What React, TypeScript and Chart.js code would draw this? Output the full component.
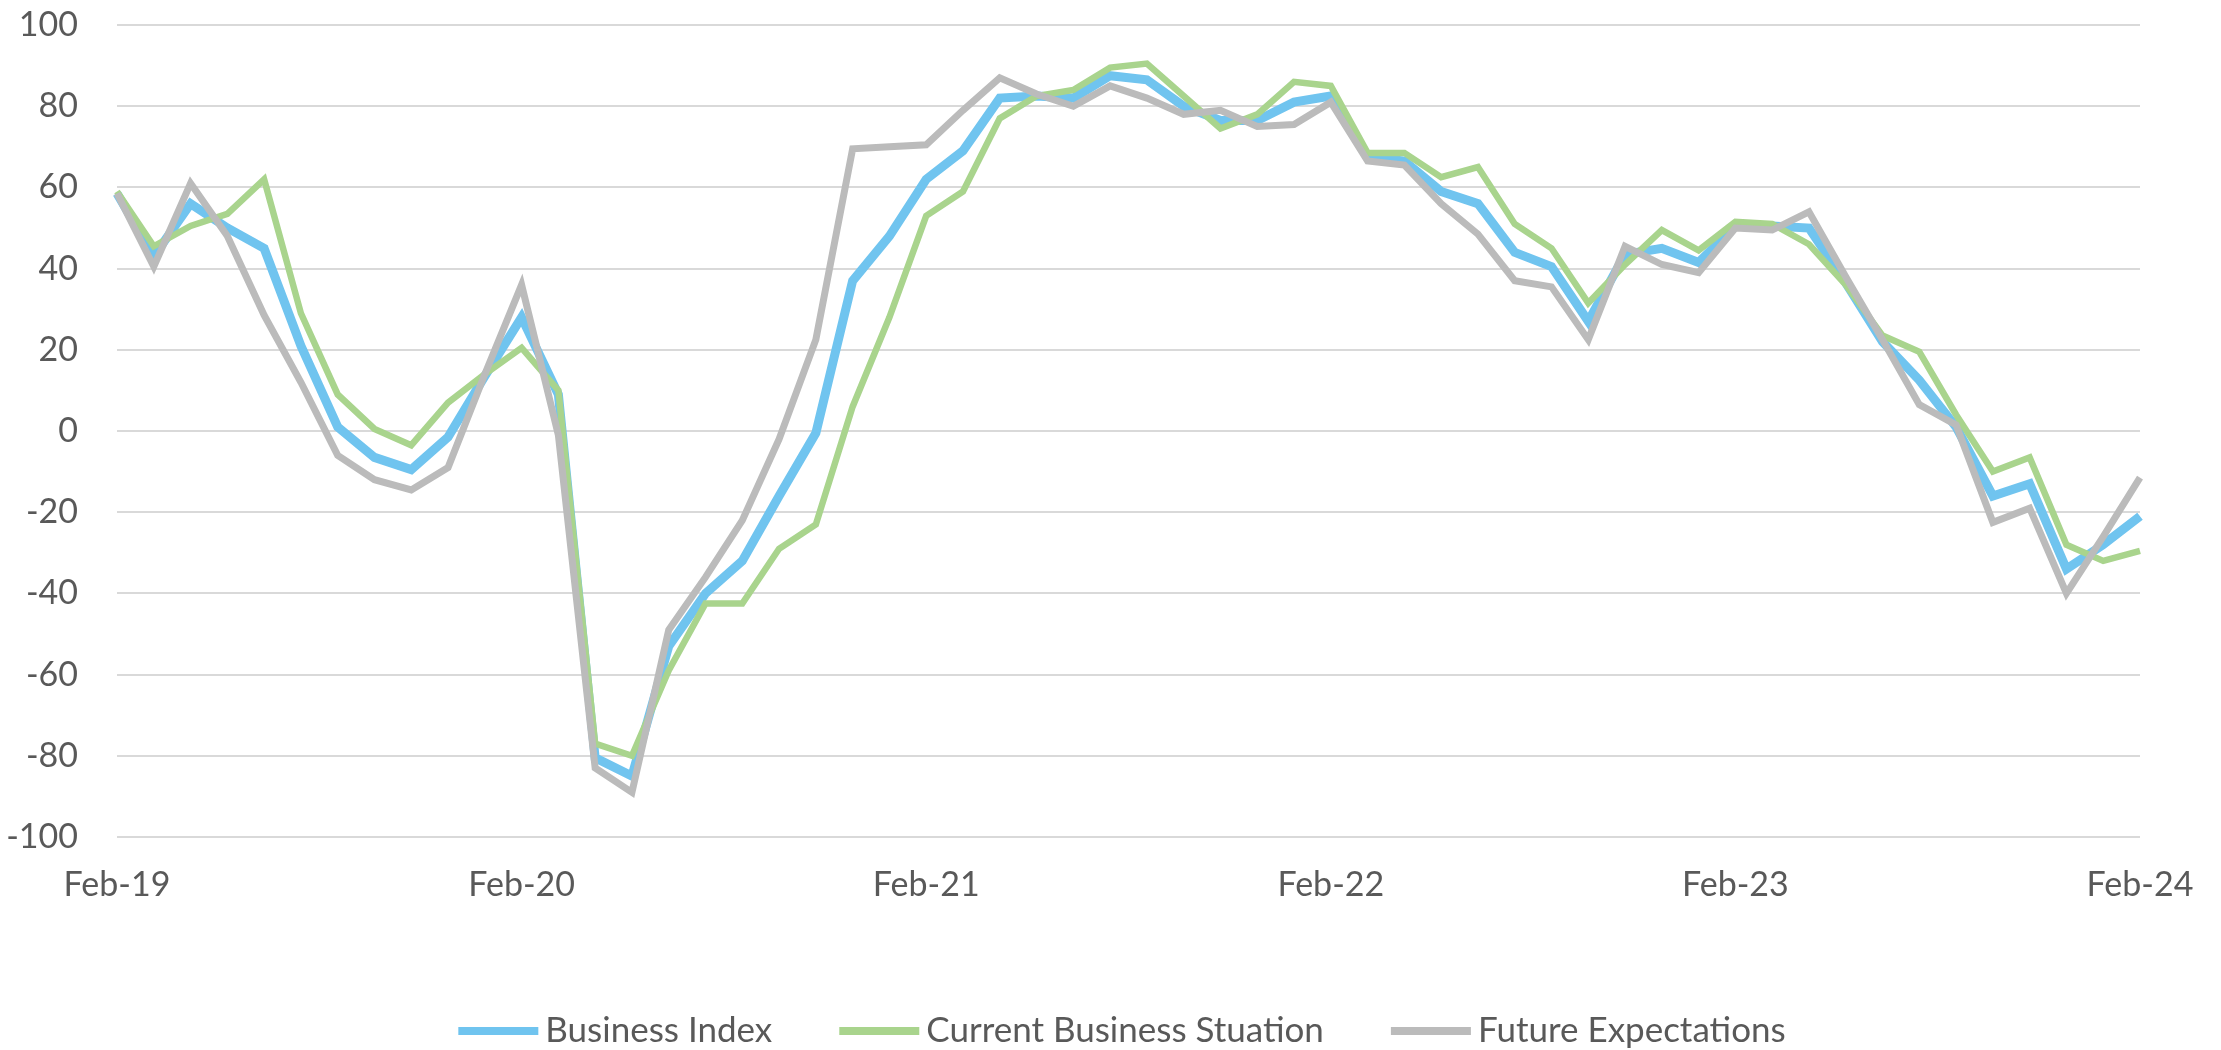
import React, { useEffect, useRef } from "react";
import { Chart, registerables } from "chart.js";

Chart.register(...registerables);

const categories: string[] = [
  "Feb-19", "Mar-19", "Apr-19", "May-19", "Jun-19", "Jul-19", "Aug-19", "Sep-19", "Oct-19", "Nov-19", "Dec-19",
  "Feb-20", "Mar-20", "Apr-20", "May-20", "Jun-20", "Jul-20", "Aug-20", "Sep-20", "Oct-20", "Nov-20", "Dec-20",
  "Feb-21", "Mar-21", "Apr-21", "May-21", "Jun-21", "Jul-21", "Aug-21", "Sep-21", "Oct-21", "Nov-21", "Dec-21",
  "Feb-22", "Mar-22", "Apr-22", "May-22", "Jun-22", "Jul-22", "Aug-22", "Sep-22", "Oct-22", "Nov-22", "Dec-22",
  "Feb-23", "Mar-23", "Apr-23", "May-23", "Jun-23", "Jul-23", "Aug-23", "Sep-23", "Oct-23", "Nov-23", "Dec-23",
  "Feb-24",
];

const shownTickLabels: string[] = ["Feb-19", "Feb-20", "Feb-21", "Feb-22", "Feb-23", "Feb-24"];

const businessIndex: number[] = [
  58.5, 43, 56, 50, 45, 21, 1, -6.5, -9.5, -1.5, 13.5,
  28, 9, -80.5, -85, -53, -40, -32, -16, -0.5, 37, 48,
  62, 69, 82, 82.5, 82, 87.5, 86.5, 80, 76.5, 76.5, 81,
  82.5, 67.5, 66.5, 59, 56, 44, 40.5, 27, 43.5, 45, 41.5,
  50.5, 50.5, 50, 36.5, 22, 12.5, 1, -16, -13, -34, -28,
  -21,
];

const currentSituation: number[] = [
  59, 45.5, 50.5, 53.5, 62, 29, 9, 0.5, -3.5, 7, 14,
  20.5, 10, -77, -80, -59, -42.5, -42.5, -29, -23, 6, 28,
  53, 59, 77, 82.5, 84, 89.5, 90.5, 82.5, 74.5, 78, 86,
  85, 68.5, 68.5, 62.5, 65, 51, 45, 31.5, 41, 49.5, 44.5,
  51.5, 51, 46, 36, 23.5, 19.5, 4, -10, -6.5, -28, -32,
  -29.5,
];

const futureExpectations: number[] = [
  58.5, 40.5, 61, 48, 28.5, 12, -6, -12, -14.5, -9, 14,
  36, -1, -83, -89, -49, -36, -22, -2, 22.5, 69.5, 70,
  70.5, 79, 87, 83, 80, 85, 82, 78, 79, 75, 75.5,
  81, 66.5, 65.5, 56, 48.5, 37, 35.5, 22.5, 45.5, 41, 39,
  50, 49.5, 54, 38, 22.5, 6.5, 1.5, -22.5, -19, -40, -26,
  -11.5,
];

const seriesNames: string[] = ["Business Index", "Current Business Stuation", "Future Expectations"];
const seriesColors: string[] = ["#70C4EF", "#A9D48D", "#BBBBBB"];

const W = 2221;
const H = 1050;
const FONT = "Lato, 'Open Sans', sans-serif";
const TEXT = "#595959";

// Custom bottom legend (Excel style: long line marker, tight gap to text)
const bottomLegend = {
  id: "bottomLegend",
  afterDraw(chart: any) {
    const ctx = chart.ctx as CanvasRenderingContext2D;
    const boxW = 80;
    const boxH = 8;
    const gap = 7;
    const spacing = 67;
    const centerX = 1122;
    const y = 1031;
    ctx.save();
    ctx.font = `35px ${FONT}`;
    ctx.textBaseline = "middle";
    ctx.textAlign = "left";
    const items = chart.data.datasets.map((ds: any) => {
      const w = ctx.measureText(ds.label).width;
      return { label: ds.label as string, color: ds.borderColor as string, w };
    });
    const total =
      items.reduce((a: number, it: any) => a + boxW + gap + it.w, 0) + spacing * (items.length - 1);
    let x = centerX - total / 2;
    for (const it of items) {
      ctx.fillStyle = it.color;
      ctx.fillRect(x, y - boxH / 2, boxW, boxH);
      ctx.fillStyle = TEXT;
      ctx.fillText(it.label, x + boxW + gap, y);
      x += boxW + gap + it.w + spacing;
    }
    ctx.restore();
  },
};

export default function App() {
  const ref = useRef<HTMLCanvasElement>(null);

  useEffect(() => {
    const canvas = ref.current;
    if (!canvas) return;
    const chart = new Chart(canvas, {
      type: "line",
      data: {
        labels: categories,
        datasets: [
          {
            label: seriesNames[0],
            data: businessIndex,
            borderColor: seriesColors[0],
            backgroundColor: seriesColors[0],
            borderWidth: 9,
            pointRadius: 0,
            tension: 0,
            order: 3,
          },
          {
            label: seriesNames[1],
            data: currentSituation,
            borderColor: seriesColors[1],
            backgroundColor: seriesColors[1],
            borderWidth: 6.5,
            pointRadius: 0,
            tension: 0,
            order: 2,
          },
          {
            label: seriesNames[2],
            data: futureExpectations,
            borderColor: seriesColors[2],
            backgroundColor: seriesColors[2],
            borderWidth: 7,
            pointRadius: 0,
            tension: 0,
            order: 1,
          },
        ],
      },
      options: {
        responsive: false,
        animation: false,
        devicePixelRatio: 1,
        layout: { padding: { left: 0, right: 81, top: 25, bottom: 103 } },
        plugins: {
          tooltip: { enabled: false },
          legend: { display: false },
        },
        scales: {
          x: {
            type: "category",
            offset: false,
            grid: { display: false, drawTicks: false },
            border: { display: false },
            ticks: {
              autoSkip: false,
              maxRotation: 0,
              minRotation: 0,
              padding: 28,
              color: TEXT,
              font: { family: FONT, size: 34 },
              callback: function (this: any, value: any, index: number) {
                const lab = categories[index];
                return shownTickLabels.includes(lab) ? lab : "";
              },
            },
            afterFit: (s: any) => {
              s.height = 110;
              s.paddingLeft = 0;
              s.paddingRight = 0;
            },
          },
          y: {
            min: -100,
            max: 100,
            grid: { color: "#D9D9D9", lineWidth: 2, drawTicks: false },
            border: { display: false },
            ticks: {
              stepSize: 20,
              padding: 39,
              color: TEXT,
              font: { family: FONT, size: 34 },
            },
            afterFit: (s: any) => {
              s.width = 117;
              s.paddingTop = 0;
              s.paddingBottom = 0;
            },
          },
        },
      },
      plugins: [bottomLegend],
    });
    return () => chart.destroy();
  }, []);

  return (
    <div
      style={{
        position: "fixed",
        left: 0,
        top: 0,
        width: W,
        height: H,
        background: "#ffffff",
      }}
    >
      <canvas ref={ref} width={W} height={H} style={{ display: "block" }} />
    </div>
  );
}
